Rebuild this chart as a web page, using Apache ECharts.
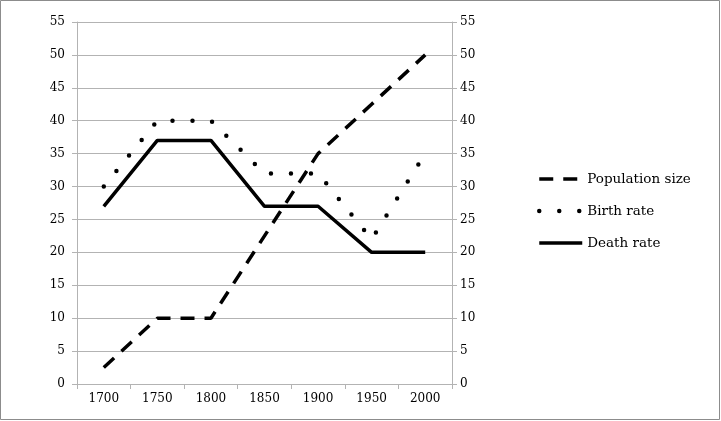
<!DOCTYPE html>
<html>
<head>
<meta charset="utf-8">
<script src="https://cdn.jsdelivr.net/npm/echarts@6/dist/echarts.min.js"></script>
<style>
  html, body { margin: 0; padding: 0; background: #fff; }
  #main { width: 721px; height: 421px; }
</style>
</head>
<body>
<div id="main"></div>
<script>
  var years = ['1700', '1750', '1800', '1850', '1900', '1950', '2000'];
  var population = [2.5, 10, 10, 22.5, 35, 42.5, 50];
  var birthRate = [30, 40, 40, 32, 32, 22, 35];
  var deathRate = [27, 37, 37, 27, 27, 20, 20];

  var font = 'DejaVu Serif';
  var gridColor = '#b3b3b3';

  // line styles shared by series and legend icons
  var popLine = { color: '#000', width: 3.5, type: [14, 10] };
  var birthLine = { color: '#000', width: 4.5, type: [0, 20], cap: 'round' };
  var deathLine = { color: '#000', width: 3.5, type: 'solid' };

  var myChart = echarts.init(document.getElementById('main'));

  function yAxis(pos, margin) {
    return {
      type: 'value',
      position: pos,
      min: 0,
      max: 55,
      interval: 5,
      axisLine: { show: true, lineStyle: { color: gridColor } },
      axisTick: { show: true, length: 5, lineStyle: { color: gridColor } },
      axisLabel: { color: '#000', fontFamily: font, fontSize: 12, margin: margin },
      splitLine: { show: pos === 'left', lineStyle: { color: gridColor } }
    };
  }

  var option = {
    animation: false,
    backgroundColor: '#fff',
    graphic: [{
      type: 'rect',
      shape: { x: 0.5, y: 0.5, width: 719, height: 419 },
      style: { fill: 'none', stroke: '#8c8c8c', lineWidth: 1 }
    }],
    grid: { left: 77, right: 269, top: 22, bottom: 37 },
    legend: {
      orient: 'vertical',
      left: 537,
      top: 172,
      padding: 0,
      itemWidth: 43,
      itemHeight: 14,
      itemGap: 18,
      itemStyle: { opacity: 0, borderWidth: 0 },
      textStyle: { color: '#000', fontFamily: font, fontSize: 13.5 },
      data: [
        { name: 'Population size', lineStyle: popLine },
        { name: 'Birth rate', lineStyle: birthLine },
        { name: 'Death rate', lineStyle: deathLine }
      ]
    },
    xAxis: {
      type: 'category',
      data: years,
      boundaryGap: true,
      axisLine: { lineStyle: { color: gridColor } },
      axisTick: { show: true, length: 5, lineStyle: { color: gridColor } },
      axisLabel: { color: '#000', fontFamily: font, fontSize: 12, margin: 9 }
    },
    yAxis: [yAxis('left', 12), yAxis('right', 8)],
    series: [{
      name: 'Death rate',
      type: 'line',
      data: deathRate,
      symbol: 'none',
      lineStyle: deathLine,
      itemStyle: { color: '#000' }
    }, {
      name: 'Birth rate',
      type: 'line',
      data: birthRate,
      symbol: 'none',
      lineStyle: birthLine,
      itemStyle: { color: '#000' }
    }, {
      name: 'Population size',
      type: 'line',
      data: population,
      symbol: 'none',
      lineStyle: popLine,
      itemStyle: { color: '#000' }
    }]
  };

  myChart.setOption(option);
</script>
</body>
</html>
